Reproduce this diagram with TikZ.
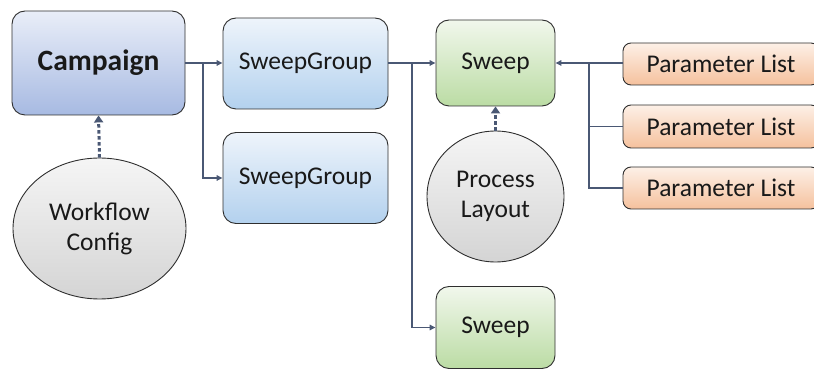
\documentclass[tikz,border=0pt]{standalone}
\usepackage{fontspec}
\setmainfont{Carlito}
\usetikzlibrary{shapes.geometric,arrows.meta}

\definecolor{edge}{HTML}{2E2E2E}
\definecolor{wire}{HTML}{4A5874}
\definecolor{blueTop}{HTML}{E9EEF8}
\definecolor{blueBot}{HTML}{A7BAE2}
\definecolor{skyTop}{HTML}{EEF4FB}
\definecolor{skyBot}{HTML}{B3D1EE}
\definecolor{greenTop}{HTML}{F1F7EC}
\definecolor{greenBot}{HTML}{BBDCA4}
\definecolor{peachTop}{HTML}{FDF0E7}
\definecolor{peachBot}{HTML}{F5C19D}
\definecolor{greyTop}{HTML}{F5F5F5}
\definecolor{greyBot}{HTML}{D4D4D4}

\tikzset{
  txt/.style={font=\fontsize{25.5}{30}\selectfont, text=black!90},
  box/.style={txt, draw=edge, line width=0.9pt, rounded corners=13pt,
              inner sep=0pt, align=center},
  campbox/.style={box, top color=blueTop, bottom color=blueBot,
                  font=\fontsize{29.5}{34}\selectfont\bfseries},
  groupbox/.style={box, top color=skyTop, bottom color=skyBot},
  sweepbox/.style={box, top color=greenTop, bottom color=greenBot},
  parambox/.style={box, rounded corners=8pt, top color=peachTop, bottom color=peachBot},
  blob/.style={txt, ellipse, draw=edge, line width=0.9pt, inner sep=0pt,
               align=center, top color=greyTop, bottom color=greyBot},
  conn/.style={draw=wire, line width=1.5pt,
               -{Triangle[length=6pt,width=5.5pt]}},
  link/.style={draw=wire, line width=1.5pt},
  feed/.style={draw=wire, line width=3pt, dash pattern=on 3.5pt off 2.5pt,
               -{Triangle[length=7pt,width=9pt]}}
}

\begin{document}
\begin{tikzpicture}[x=1pt,y=-1pt]
  \useasboundingbox (0,0) rectangle (814,371);
  \clip (0,0) rectangle (814,371);

  % boxes
  \node[campbox, minimum width=173pt, minimum height=104pt] (camp) at (98.5,63) {Campaign};
  \node[groupbox, minimum width=165pt, minimum height=91pt] (sg1) at (305.5,63.5) {SweepGroup};
  \node[groupbox, minimum width=165pt, minimum height=91pt] (sg2) at (305.5,178) {SweepGroup};
  \node[sweepbox, minimum width=119pt, minimum height=86pt] (sw1) at (495.5,63) {Sweep};
  \node[sweepbox, minimum width=119pt, minimum height=82pt] (sw2) at (495.5,327.5) {Sweep};
  \node[parambox, minimum width=196pt, minimum height=42pt] (p1) at (721,64) {Parameter List};
  \node[parambox, minimum width=196pt, minimum height=43pt] (p2) at (721,126.5) {Parameter List};
  \node[parambox, minimum width=196pt, minimum height=42pt] (p3) at (721,188) {Parameter List};

  % configuration ellipses
  \node[blob, minimum width=173pt, minimum height=141pt] (wf) at (99.5,228.5) {Workflow\\Config};
  \node[blob, minimum width=137pt, minimum height=131pt] (pl) at (495.5,196.5) {Process\\Layout};

  % branch points
  \coordinate (j1) at (203,63);
  \coordinate (j2) at (412,63);
  \coordinate (j3) at (589,63);

  % hierarchy connectors
  \draw[conn] (camp.east |- j1) -- (sg1.west |- j1);
  \draw[conn] (camp.east |- j1) -- (j1) |- (sg2.west);
  \draw[conn] (sg1.east |- j2) -- (sw1.west |- j2);
  \draw[conn] (sg1.east |- j2) -- (j2) |- (sw2.west);

  % parameter lists into the sweep
  \draw[conn] (p1.west |- j3) -- (sw1.east |- j3);
  \draw[link] (p2.west) -| (j3);
  \draw[link] (p3.west) -| (j3);

  % configuration feeds
  \draw[feed] (wf.north) -- (camp.south);
  \draw[feed] (pl.north) -- (sw1.south);
\end{tikzpicture}
\end{document}
